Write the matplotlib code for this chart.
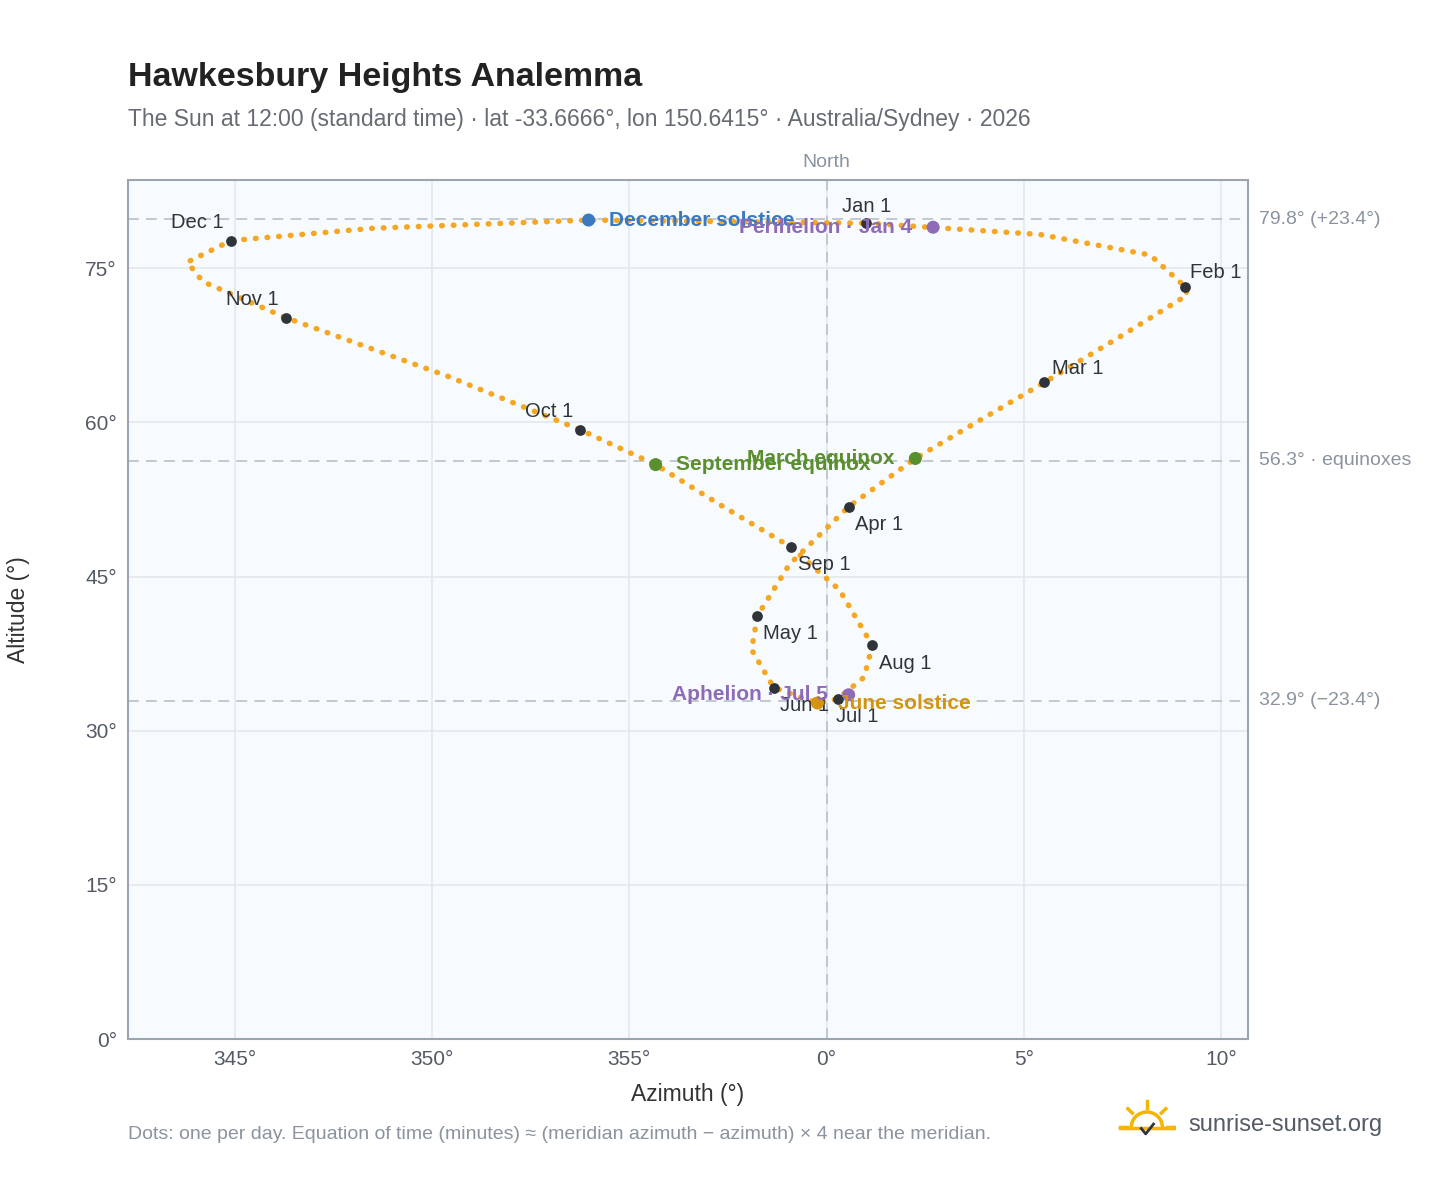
import matplotlib.pyplot as plt
from matplotlib.patches import Arc

plt.rcParams['font.family'] = ['Liberation Sans', 'DejaVu Sans']

# path of the sun at 12:00, roughly every 1-2 weeks (azimuth offset from north, altitude)
path_az = [1.01, 5.4, 8.2, 9.09, 9.14, 7.5, 5.52, 3.7, 2.25, 0.56, -0.94, -1.75, -1.9, -1.34,
           -0.23, 0.28, 0.95, 1.16, 0.33, -0.91, -2.7, -4.33, -6.25, -9.6, -13.7, -15.8,
           -16.2, -15.09, -11.5, -6.03, 0.7, 1.01]
path_alt = [79.4, 78.3, 76.3, 73.2, 72.4, 68.5, 63.9, 59.8, 56.5, 51.8, 46.2, 41.2, 37.9, 34.2,
            32.7, 33.1, 35.2, 38.3, 43.7, 47.9, 52.0, 55.9, 59.3, 64.5, 70.2, 73.7,
            75.6, 77.7, 78.9, 79.7, 79.4, 79.4]

months = ['Jan 1', 'Feb 1', 'Mar 1', 'Apr 1', 'May 1', 'Jun 1', 'Jul 1', 'Aug 1', 'Sep 1', 'Oct 1', 'Nov 1', 'Dec 1']
month_az = [1.01, 9.09, 5.52, 0.56, -1.75, -1.34, 0.28, 1.16, -0.91, -6.25, -13.7, -15.09]
month_alt = [79.4, 73.2, 63.9, 51.8, 41.2, 34.2, 33.1, 38.3, 47.9, 59.3, 70.2, 77.7]
month_off = [(0, 12), (22, 10), (24, 10), (22, -13), (24, -13), (22, -13), (14, -13), (24, -13),
             (24, -13), (-22, 13), (-24, 13), (-24, 13)]

events = ['December solstice', 'Perihelion · Jan 4', 'March equinox', 'September equinox',
          'June solstice', 'Aphelion · Jul 5']
event_az = [-6.03, 2.7, 2.25, -4.33, -0.23, 0.56]
event_alt = [79.7, 79.0, 56.5, 55.9, 32.7, 33.5]
event_col = ['#3a78c2', '#8e6bb8', '#5a8f2e', '#5a8f2e', '#d4940f', '#8e6bb8']
event_ha = ['left', 'right', 'right', 'left', 'left', 'right']
event_dx = [15, -15, -15, 15, 15, -15]

ref_alt = [79.8, 56.3, 32.9]
ref_lab = ['79.8° (+23.4°)', '56.3° · equinoxes', '32.9° (−23.4°)']

fig = plt.figure(figsize=(14.48, 11.88), dpi=100)
ax = fig.add_axes([0.0884, 0.1254, 0.7735, 0.7231])
ax.set_facecolor('#f8fbfe')
ax.set_xlim(-17.7, 10.68)
ax.set_ylim(0, 83.6)
xt = [-15, -10, -5, 0, 5, 10]
ax.set_xticks(xt)
ax.set_xticklabels(['345°', '350°', '355°', '0°', '5°', '10°'])
ax.set_yticks([0, 15, 30, 45, 60, 75])
ax.set_yticklabels(['0°', '15°', '30°', '45°', '60°', '75°'])
ax.grid(color='#e3e8ee', lw=1.2)
ax.set_axisbelow(True)
ax.tick_params(colors='#555b66', labelsize=15, length=0, pad=8)
for s in ax.spines.values():
    s.set_color('#9aa5b1')
    s.set_linewidth(1.5)

for y in ref_alt:
    ax.axhline(y, color='#bcc4ce', ls=(0, (6, 4)), lw=1.3)
ax.axvline(0, color='#bcc4ce', ls=(0, (6, 4)), lw=1.3)

ax.plot(path_az, path_alt, color='#f5a623', lw=4, ls=(0, (0.1, 2.0)), dash_capstyle='round', zorder=3)

ax.scatter(month_az, month_alt, s=45, color='#2f343b', zorder=5)
for m, x, y, o in zip(months, month_az, month_alt, month_off):
    ax.annotate(m, (x, y), xytext=o, textcoords='offset points', ha='center', va='center',
                fontsize=14.5, color='#2f343b', zorder=6)

ax.scatter(event_az, event_alt, s=70, color=event_col, zorder=6)
for e, x, y, c, h, dx in zip(events, event_az, event_alt, event_col, event_ha, event_dx):
    ax.annotate(e, (x, y), xytext=(dx, 0), textcoords='offset points', ha=h, va='center',
                fontsize=15, fontweight='bold', color=c, zorder=7)

for y, l in zip(ref_alt, ref_lab):
    ax.text(1.01, y, l, transform=ax.get_yaxis_transform(), va='center', fontsize=14, color='#8a939e')
ax.text(0, 1.01, 'North', transform=ax.get_xaxis_transform(), ha='center', va='bottom', fontsize=14, color='#8a939e')

ax.set_xlabel('Azimuth (°)', fontsize=16.5, color='#333', labelpad=10)
ax.set_ylabel('Altitude (°)', fontsize=16.5, color='#333', labelpad=40)

fig.text(0.0884, 0.928, 'Hawkesbury Heights Analemma', fontsize=24.5, fontweight='bold', color='#222')
fig.text(0.0884, 0.894, 'The Sun at 12:00 (standard time) · lat -33.6666°, lon 150.6415° · Australia/Sydney · 2026',
         fontsize=16.5, color='#666b74')
fig.text(0.0884, 0.041, 'Dots: one per day. Equation of time (minutes) ≈ (meridian azimuth − azimuth) × 4 near the meridian.',
         fontsize=14, color='#8a939e')
fig.text(0.821, 0.053, 'sunrise-sunset.org', fontsize=17, color='#555b66', va='center')

# small sun logo
lx = fig.add_axes([0.772, 0.04, 0.04, 0.035])
lx.set_xlim(-1.3, 1.3)
lx.set_ylim(-0.6, 1.3)
lx.axis('off')
lx.add_patch(Arc((0, 0), 1.4, 1.4, theta1=0, theta2=180, color='#f5b400', lw=2.5))
for a, b in [((-1.2, 0), (-0.9, 0)), ((0.9, 0), (1.2, 0)), ((0, 0.9), (0, 1.2)),
             ((-0.85, 0.85), (-0.65, 0.65)), ((0.85, 0.85), (0.65, 0.65))]:
    lx.plot([a[0], b[0]], [a[1], b[1]], color='#f5b400', lw=2.5)
lx.plot([-1.2, 1.2], [-0.05, -0.05], color='#f5b400', lw=2.5)
lx.plot([-0.25, -0.05, 0.3], [-0.05, -0.3, 0.15], color='#2f343b', lw=2)

fig.savefig('out.png')
